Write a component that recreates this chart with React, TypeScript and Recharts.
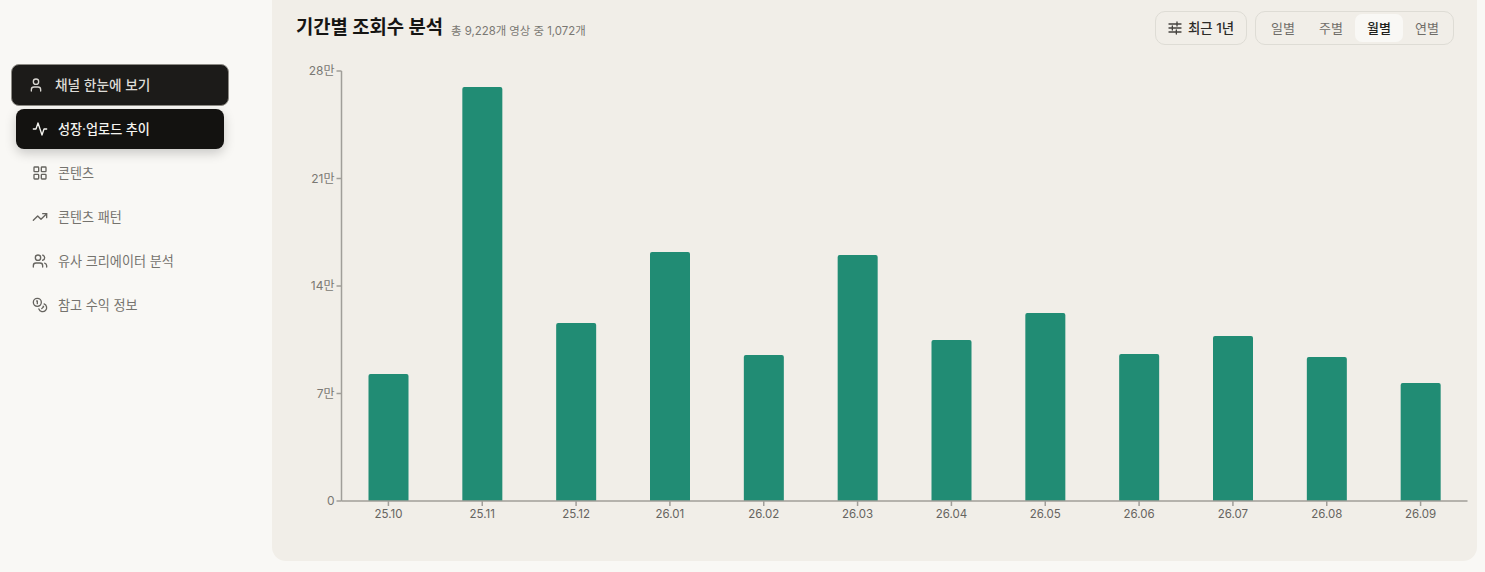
import React from 'react';
import { BarChart, Bar, XAxis, YAxis } from 'recharts';

const months = ['25.10', '25.11', '25.12', '26.01', '26.02', '26.03', '26.04', '26.05', '26.06', '26.07', '26.08', '26.09'];
const views = [82700, 269600, 115900, 162100, 95100, 160200, 104800, 122400, 95700, 107400, 93800, 76800];
const yTicks = [0, 70000, 140000, 210000, 280000];
const periods = ['일별', '주별', '월별', '연별'];
const navLabels = ['콘텐츠', '콘텐츠 패턴', '유사 크리에이터 분석', '참고 수익 정보'];

const FONT = 'Inter, "Noto Sans CJK KR", sans-serif';
const data = months.map((month, i) => ({ month, views: views[i] }));

const formatTick = (v: number) => (v === 0 ? '0' : `${v / 10000}만`);

const Icon = ({ children, x, y, color }: { children: React.ReactNode; x: number; y: number; color: string }) => (
    <svg
        width={16}
        height={16}
        viewBox="0 0 24 24"
        fill="none"
        stroke={color}
        strokeWidth={2}
        strokeLinecap="round"
        strokeLinejoin="round"
        style={{ position: 'absolute', left: x, top: y }}
    >
        {children}
    </svg>
);

const navIcons = [
    <>
        <rect x="3" y="3" width="7" height="7" rx="1" />
        <rect x="14" y="3" width="7" height="7" rx="1" />
        <rect x="3" y="14" width="7" height="7" rx="1" />
        <rect x="14" y="14" width="7" height="7" rx="1" />
    </>,
    <>
        <path d="M22 7 13.5 15.5l-5-5L2 17" />
        <path d="M16 7h6v6" />
    </>,
    <>
        <path d="M16 21v-2a4 4 0 0 0-4-4H6a4 4 0 0 0-4 4v2" />
        <circle cx="9" cy="7" r="4" />
        <path d="M22 21v-2a4 4 0 0 0-3-3.87" />
        <path d="M16 3.13a4 4 0 0 1 0 7.75" />
    </>,
    <>
        <circle cx="8" cy="8" r="6" />
        <path d="M18.09 10.37A6 6 0 1 1 10.34 18" />
        <path d="M7 6h1v4" />
        <path d="m16.71 13.88.7.71-2.82 2.82" />
    </>,
];

const Text = ({ x, y, size, color, weight, children }: { x: number; y: number; size: number; color: string; weight?: number; children: React.ReactNode }) => (
    <div style={{ position: 'absolute', left: x, top: y, fontSize: size, color, fontWeight: weight ?? 400, lineHeight: '20px', whiteSpace: 'nowrap' }}>
        {children}
    </div>
);

const Sidebar = () => (
    <>
        <div style={{ position: 'absolute', left: 11, top: 64, width: 218, height: 42, boxSizing: 'border-box', borderRadius: 8, background: '#1c1b19', border: '1px solid #8d8b85' }} />
        <Icon x={28} y={77} color="#d8d6d1">
            <path d="M19 21v-2a4 4 0 0 0-4-4H9a4 4 0 0 0-4 4v2" />
            <circle cx="12" cy="7" r="4" />
        </Icon>
        <Text x={55} y={75} size={13.7} color="#dedcd7" weight={500}>채널 한눈에 보기</Text>

        <div style={{ position: 'absolute', left: 16, top: 109, width: 208, height: 40, borderRadius: 8, background: '#131210', boxShadow: '0 4px 12px rgba(0,0,0,0.2)' }} />
        <Icon x={32} y={121} color="#f5f4f0">
            <path d="M22 12h-4l-3 9L9 3l-3 9H2" />
        </Icon>
        <Text x={58} y={119} size={13.1} color="#f5f4f0" weight={500}>성장·업로드 추이</Text>

        {navLabels.map((label, i) => (
            <React.Fragment key={label}>
                <Icon x={32} y={165 + i * 44} color="#66645f">{navIcons[i]}</Icon>
                <Text x={58} y={163 + i * 44} size={13.1} color="#75736e">{label}</Text>
            </React.Fragment>
        ))}
    </>
);

const Header = () => (
    <>
        <Text x={296} y={18} size={18.8} color="#161513" weight={700}>기간별 조회수 분석</Text>
        <Text x={451} y={21} size={11.4} color="#7a7873">총 9,228개 영상 중 1,072개</Text>

        <div style={{ position: 'absolute', left: 1155, top: 11, width: 92, height: 34, boxSizing: 'border-box', borderRadius: 10, border: '1px solid #dedcd5' }} />
        <Icon x={1167} y={20} color="#44423e">
            <path d="M3 6h18M3 12h18M3 18h18" />
            <path d="M15 3v6M8 9v6M14 15v6" />
        </Icon>
        <Text x={1188} y={18} size={13.4} color="#2c2b28" weight={500}>최근 1년</Text>

        <div style={{ position: 'absolute', left: 1255, top: 11, width: 199, height: 34, boxSizing: 'border-box', borderRadius: 10, border: '1px solid #dedcd5' }} />
        <div style={{ position: 'absolute', left: 1355, top: 14, width: 48, height: 28, borderRadius: 7, background: '#f9f8f5' }} />
        {periods.map((p, i) => (
            <div
                key={p}
                style={{
                    position: 'absolute',
                    left: 1259 + i * 48,
                    top: 18,
                    width: 48,
                    textAlign: 'center',
                    fontSize: 13,
                    lineHeight: '20px',
                    color: p === '월별' ? '#201f1c' : '#6f6d68',
                    fontWeight: p === '월별' ? 500 : 400,
                }}
            >
                {p}
            </div>
        ))}
    </>
);

export default function App() {
    return (
        <div style={{ position: 'absolute', left: 0, top: 0, width: 1485, height: 572, overflow: 'hidden', background: '#f9f8f5', fontFamily: FONT }}>
            <div style={{ position: 'absolute', left: 272, top: 0, width: 1205, height: 561, background: '#f1eee8', borderRadius: '0 0 14px 14px' }} />
            <Sidebar />
            <Header />
            <div style={{ position: 'absolute', left: 272, top: 0 }}>
                <BarChart
                    width={1205}
                    height={561}
                    data={data}
                    margin={{ top: 71, right: 9.5, bottom: 30, left: 9.5 }}
                    barCategoryGap={0}
                >
                    <XAxis
                        dataKey="month"
                        height={30}
                        interval={0}
                        stroke="#a09e99"
                        strokeWidth={1.5}
                        tickSize={5}
                        tickMargin={4}
                        tick={{ fill: '#66645f', fontSize: 11.5, fontFamily: FONT }}
                    />
                    <YAxis
                        width={60}
                        domain={[0, 280000]}
                        ticks={yTicks}
                        tickFormatter={formatTick}
                        stroke="#a09e99"
                        strokeWidth={1.5}
                        tickSize={5}
                        tick={{ fill: '#7a7873', fontSize: 12, fontFamily: FONT }}
                    />
                    <Bar dataKey="views" fill="#218c74" barSize={40} radius={[2, 2, 0, 0]} isAnimationActive={false} />
                </BarChart>
            </div>
        </div>
    );
}
